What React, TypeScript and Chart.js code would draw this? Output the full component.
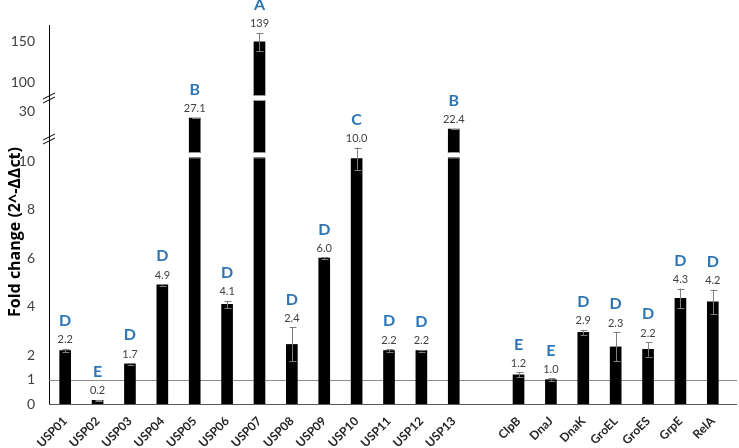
import React, { useEffect, useRef } from "react";
import { Chart, registerables } from "chart.js";

Chart.register(...registerables);

// ---------- data ----------
const categories = [
  "USP01", "USP02", "USP03", "USP04", "USP05", "USP06", "USP07", "USP08", "USP09", "USP10",
  "USP11", "USP12", "USP13", "", "ClpB", "DnaJ", "DnaK", "GroEL", "GroES", "GrpE", "RelA",
];
const foldChange: (number | null)[] = [
  2.2, 0.15, 1.65, 4.9, 27.1, 4.1, 149, 2.45, 6.0, 10.1,
  2.2, 2.2, 22.4, null, 1.2, 1.0, 2.95, 2.35, 2.25, 4.35, 4.2,
];
const errors: (number | null)[] = [
  0.08, 0.02, 0.03, 0.03, 0.15, 0.15, 11, 0.7, 0.03, 0.45,
  0.05, 0.04, 0.15, null, 0.1, 0.05, 0.1, 0.6, 0.3, 0.4, 0.5,
];
const valueLabels = [
  "2.2", "0.2", "1.7", "4.9", "27.1", "4.1", "139", "2.4", "6.0", "10.0",
  "2.2", "2.2", "22.4", "", "1.2", "1.0", "2.9", "2.3", "2.2", "4.3", "4.2",
];
const groupLetters = [
  "D", "E", "D", "D", "B", "D", "A", "D", "D", "C",
  "D", "D", "B", "", "E", "E", "D", "D", "D", "D", "D",
];
const yTickValues = [0, 1, 2, 4, 6, 8, 10, 30, 100, 150];
const referenceLevel = 1;
const yTitle = "Fold change (2^-\u0394\u0394ct)";

// ---------- broken-axis mapping (style) ----------
const LOW_SCALE = 24.3;
const MID_V0 = 12.15;
const MID_T0 = 251;
const MID_SCALE = 2.34;
const UP_V0 = 83;
const UP_T0 = 308;
const UP_SCALE = 0.82;
const T_MAX = 379;
const GAPS: [number, number, number][] = [
  // [threshold value, t from, t to]
  [MID_V0, 246.6, 251],
  [UP_V0, 304, 308],
];
const BREAK_MARKS_T = [307, 266];

function toT(v: number): number {
  if (v < MID_V0) return v * LOW_SCALE;
  if (v < UP_V0) return MID_T0 + (v - MID_V0) * MID_SCALE;
  return UP_T0 + (v - UP_V0) * UP_SCALE;
}

const BLUE = "#2E75B6";

const overlayPlugin = {
  id: "overlay",
  beforeDatasetsDraw(chart: any) {
    const { ctx, chartArea, scales } = chart;
    const y = scales.y;
    const yy = Math.round(y.getPixelForValue(toT(referenceLevel))) + 0.5;
    ctx.save();
    ctx.strokeStyle = "#8c8c8c";
    ctx.lineWidth = 1;
    ctx.beginPath();
    ctx.moveTo(chartArea.left, yy);
    ctx.lineTo(737, yy);
    ctx.stroke();
    ctx.restore();
  },
  afterDatasetsDraw(chart: any) {
    const { ctx, chartArea, scales } = chart;
    const y = scales.y;
    const meta = chart.getDatasetMeta(0);
    ctx.save();
    // gaps in broken bars
    meta.data.forEach((el: any, i: number) => {
      const v = foldChange[i];
      if (v == null) return;
      GAPS.forEach(([thr, t0, t1]) => {
        if (v >= thr) {
          const yA = y.getPixelForValue(t1);
          const yB = y.getPixelForValue(t0);
          ctx.fillStyle = "#ffffff";
          ctx.fillRect(el.x - el.width / 2 - 1, yA, el.width + 2, yB - yA);
          ctx.fillStyle = "#9a9a9a";
          ctx.fillRect(el.x - el.width / 2, yA - 1, el.width, 1);
          ctx.fillRect(el.x - el.width / 2, yB, el.width, 1);
        }
      });
    });
    // error bars and labels
    meta.data.forEach((el: any, i: number) => {
      const v = foldChange[i];
      const e = errors[i];
      if (v == null || e == null) return;
      const yTop = y.getPixelForValue(toT(v + e));
      const yBot = y.getPixelForValue(toT(Math.max(0, v - e)));
      const x = Math.round(el.x) + 0.5;
      ctx.strokeStyle = "#7f7f7f";
      ctx.lineWidth = 1;
      ctx.beginPath();
      ctx.moveTo(x, yTop);
      ctx.lineTo(x, yBot);
      ctx.moveTo(x - 3, Math.round(yTop) + 0.5);
      ctx.lineTo(x + 4, Math.round(yTop) + 0.5);
      ctx.moveTo(x - 3, Math.round(yBot) + 0.5);
      ctx.lineTo(x + 4, Math.round(yBot) + 0.5);
      ctx.stroke();

      const numY = yTop - 9;
      ctx.textAlign = "center";
      ctx.textBaseline = "middle";
      ctx.fillStyle = "#404040";
      ctx.font = "11px Lato";
      ctx.fillText(valueLabels[i], el.x, numY);
      ctx.fillStyle = BLUE;
      ctx.font = "bold 16px Lato";
      ctx.fillText(groupLetters[i], el.x, numY - 19);
    });
    // x axis line
    const by = Math.round(chartArea.bottom) + 0.5;
    ctx.strokeStyle = "#595959";
    ctx.lineWidth = 1;
    ctx.beginPath();
    ctx.moveTo(chartArea.left, by);
    ctx.lineTo(737, by);
    ctx.stroke();
    // break marks on the y axis
    const ax = chartArea.left;
    ctx.strokeStyle = "#000000";
    BREAK_MARKS_T.forEach((t) => {
      const py = y.getPixelForValue(t);
      ctx.beginPath();
      ctx.moveTo(ax - 6, py + 2);
      ctx.lineTo(ax + 6, py - 4);
      ctx.moveTo(ax - 6, py + 6);
      ctx.lineTo(ax + 6, py);
      ctx.stroke();
    });
    // y title
    ctx.save();
    ctx.translate(15, 232);
    ctx.rotate(-Math.PI / 2);
    ctx.textAlign = "center";
    ctx.textBaseline = "middle";
    ctx.fillStyle = "#000000";
    ctx.font = "bold 16px 'Open Sans'";
    ctx.fillText(yTitle, 0, 0);
    ctx.restore();
    ctx.restore();
  },
};

export default function App() {
  const ref = useRef<HTMLCanvasElement | null>(null);
  useEffect(() => {
    if (!ref.current) return;
    const chart = new Chart(ref.current, {
      type: "bar",
      data: {
        labels: categories,
        datasets: [
          {
            data: foldChange.map((v) => (v == null ? null : toT(v))),
            backgroundColor: "#000000",
            borderWidth: 0,
            barThickness: 11,
          },
        ],
      },
      options: {
        responsive: false,
        animation: false,
        layout: { padding: { top: 25, right: 10, left: 0, bottom: 0 } },
        plugins: { legend: { display: false }, tooltip: { enabled: false } },
        scales: {
          x: {
            type: "category",
            offset: true,
            grid: { display: false },
            border: { display: false },
            ticks: {
              autoSkip: false,
              maxRotation: 45,
              minRotation: 45,
              color: "#262626",
              font: { family: "Lato", size: 12, weight: "bold" },
              padding: 2,
            },
            afterFit: (s: any) => {
              s.height = 44;
            },
          },
          y: {
            type: "linear",
            min: 0,
            max: T_MAX,
            grid: { display: false },
            border: { display: true, color: "#000000", width: 1 },
            afterBuildTicks: (s: any) => {
              s.ticks = yTickValues.map((v) => ({ value: toT(v) }));
            },
            ticks: {
              autoSkip: false,
              color: "#404040",
              font: { family: "Lato", size: 14 },
              padding: 6,
              callback: (value: any) => {
                const idx = yTickValues.findIndex((tv) => Math.abs(toT(tv) - Number(value)) < 0.01);
                return idx >= 0 ? String(yTickValues[idx]) : "";
              },
            },
            afterFit: (s: any) => {
              s.width = 49;
            },
          },
        },
      },
      plugins: [overlayPlugin],
    });
    return () => chart.destroy();
  }, []);
  return (
    <div style={{ position: "fixed", left: 0, top: 0, width: 739, height: 448, background: "#fff" }}>
      <canvas ref={ref} width={739} height={448} />
    </div>
  );
}
